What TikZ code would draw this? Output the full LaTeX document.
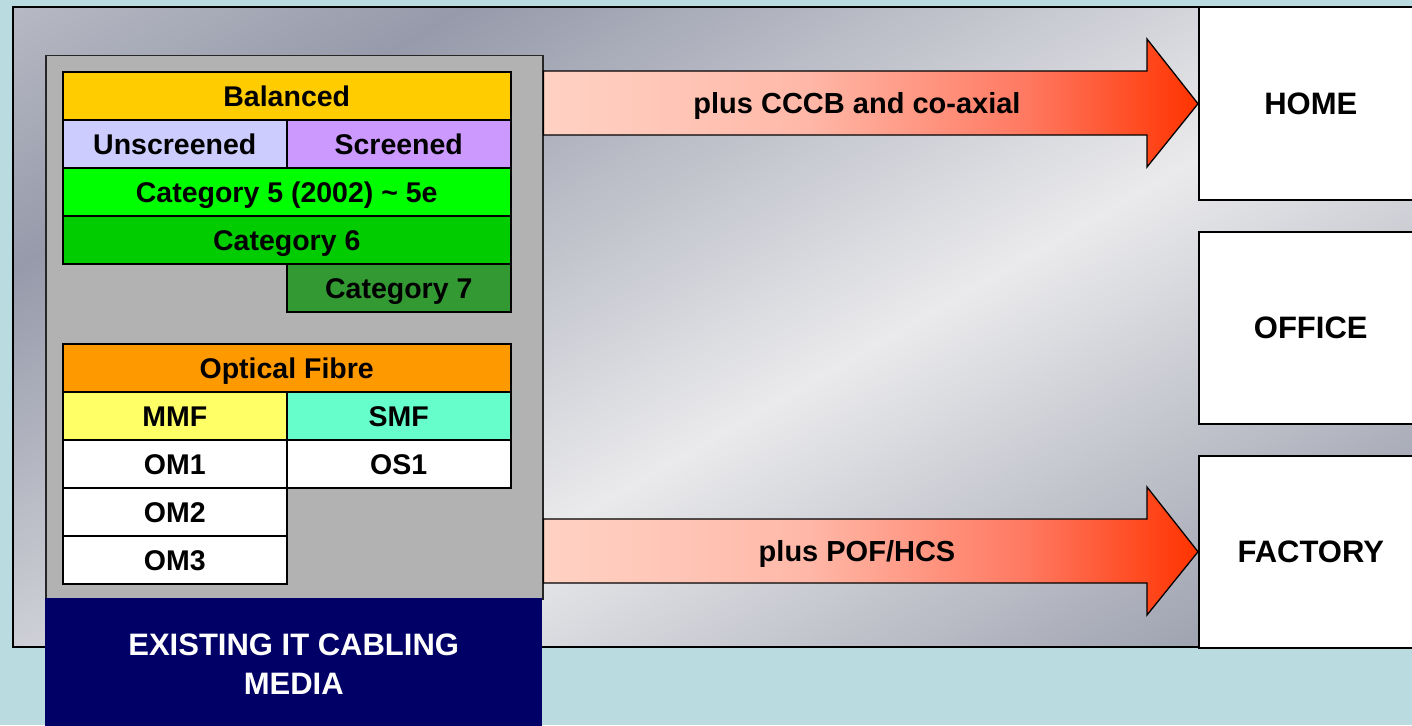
\documentclass[tikz,border=0pt]{standalone}
\usepackage{fontspec}
\setmainfont{Liberation Sans}
\usetikzlibrary{calc}
\definecolor{bg}{RGB}{186,219,223}
\definecolor{mA}{RGB}{224,224,227}
\definecolor{mB}{RGB}{150,154,170}
\definecolor{mC}{RGB}{234,234,236}
\definecolor{mD}{RGB}{136,141,158}
\definecolor{mE}{RGB}{168,172,184}
\definecolor{innergray}{RGB}{178,178,178}
\definecolor{navy}{RGB}{0,0,102}
\definecolor{cBal}{RGB}{255,204,0}
\definecolor{cUns}{RGB}{204,204,255}
\definecolor{cScr}{RGB}{204,153,255}
\definecolor{cCfive}{RGB}{0,255,0}
\definecolor{cCsix}{RGB}{0,204,0}
\definecolor{cCseven}{RGB}{51,153,51}
\definecolor{cOpt}{RGB}{255,153,0}
\definecolor{cMMF}{RGB}{255,255,102}
\definecolor{cSMF}{RGB}{102,255,204}
\definecolor{arrA}{RGB}{255,210,196}
\definecolor{arrB}{RGB}{255,184,168}
\definecolor{arrC}{RGB}{255,120,96}
\definecolor{arrD}{RGB}{255,51,0}
\pgfdeclarehorizontalshading{metal}{100bp}{color(0bp)=(mA); color(28bp)=(mB); color(55bp)=(mC); color(85bp)=(mD); color(100bp)=(mE)}
\pgfdeclarehorizontalshading{redarrow}{100bp}{color(0bp)=(arrA); color(25bp)=(arrA); color(45bp)=(arrB); color(62bp)=(arrC); color(75bp)=(arrD); color(100bp)=(arrD)}
\begin{document}
\begin{tikzpicture}[x=1pt,y=-1pt,
  cell/.style={draw=black, line width=1.5pt, minimum width=448pt, minimum height=48pt, inner sep=0pt, anchor=north west, text height=20.5pt, text depth=0pt, font=\fontsize{28.5}{30}\selectfont\bfseries},
  half/.style={cell, minimum width=224pt},
  rbox/.style={draw=black, line width=1.5pt, fill=white, minimum width=224pt, minimum height=192pt, inner sep=0pt, anchor=north west, font=\fontsize{31}{34}\selectfont\bfseries},
  bigarrow/.style={draw=black, line width=1.3pt, shading=redarrow},
  arrlabel/.style={font=\fontsize{29}{32}\selectfont\bfseries, inner sep=0pt, text height=21pt, text depth=0pt}]
\useasboundingbox (0,0) rectangle (1412,725);
\clip (0,0) rectangle (1412,725);
\fill[bg] (0,0) rectangle (1412,725);
% metallic panel
\shade[shading=metal, shading angle=-60, draw=black, line width=1.5pt] (13,7) rectangle (1430,647);
% destination boxes
\node[rbox] (home) at (1198,7) {HOME};
\node[rbox] (office) at (1198,231) {OFFICE};
\node[rbox] (factory) at (1198,455) {FACTORY};
% inner media box
\node[draw=black!85, line width=1.5pt, fill=innergray, minimum width=497pt, minimum height=543pt, inner sep=0pt, anchor=north west] (inner) at (45,55) {};
\node[fill=navy, minimum width=497pt, minimum height=132pt, inner sep=0pt, anchor=north west, text=white, align=center, font=\fontsize{31}{39}\selectfont\bfseries] (media) at (45,598) {EXISTING IT CABLING\\MEDIA};
% balanced table
\node[cell, fill=cBal] (bal) at (62,71) {Balanced};
\node[half, fill=cUns] (uns) at (62,119) {Unscreened};
\node[half, fill=cScr] (scr) at (286,119) {Screened};
\node[cell, fill=cCfive] (cfive) at (62,167) {Category 5 (2002) \textasciitilde\ 5e};
\node[cell, fill=cCsix] (csix) at (62,215) {Category 6};
\node[half, fill=cCseven] (cseven) at (286,263) {Category 7};
% optical table
\node[cell, fill=cOpt] (opt) at (62,343) {Optical Fibre};
\node[half, fill=cMMF] (mmf) at (62,391) {MMF};
\node[half, fill=cSMF] (smf) at (286,391) {SMF};
\node[half, fill=white] (omone) at (62,439) {OM1};
\node[half, fill=white] (osone) at (286,439) {OS1};
\node[half, fill=white] (omtwo) at (62,487) {OM2};
\node[half, fill=white] (omthree) at (62,535) {OM3};
% arrows
\shade[bigarrow] (inner.east |- 0,71) -- (1147,71) -- (1147,39) -- (home.west) -- (1147,167) -- (1147,135) -- (inner.east |- 0,135) -- cycle;
\node[arrlabel] (lone) at (857,103) {plus CCCB and co-axial};
\shade[bigarrow] (inner.east |- 0,519) -- (1147,519) -- (1147,487) -- (factory.west) -- (1147,615) -- (1147,583) -- (inner.east |- 0,583) -- cycle;
\node[arrlabel] (ltwo) at (857,551) {plus POF/HCS};
\end{tikzpicture}
\end{document}
